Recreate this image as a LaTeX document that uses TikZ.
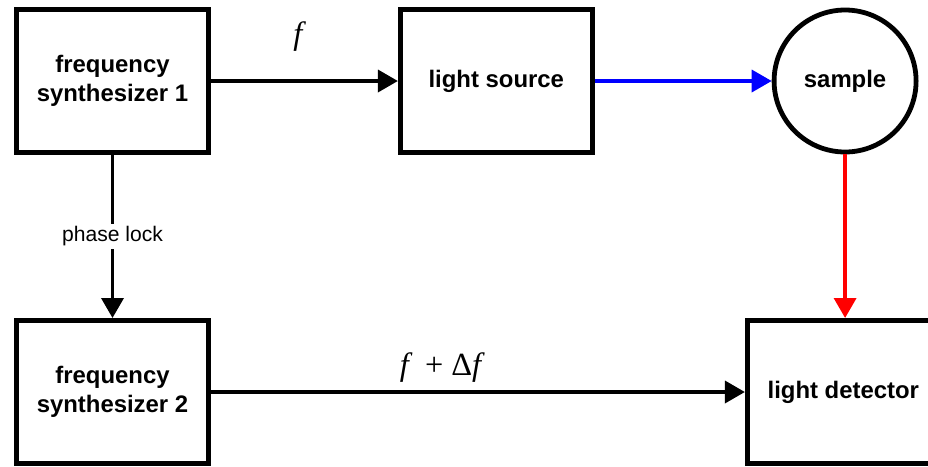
\documentclass[tikz,border=0pt]{standalone}
\usepackage{fontspec}
\setmainfont{Liberation Sans}
\newfontfamily\tms{Liberation Serif}
\usetikzlibrary{arrows.meta,positioning}

\begin{document}
\begin{tikzpicture}[
  box/.style={draw,line width=0.12cm,minimum width=4.8cm,minimum height=3.58cm,align=center,
    font=\fontsize{17}{20.6}\selectfont\bfseries},
  disc/.style={box,circle,minimum size=3.55cm,inner sep=0pt},
  arrow/.style={line width=0.09cm,-{Triangle[length=0.5cm,width=0.55cm]}},
  lbl/.style={font=\fontsize{15}{18}\selectfont,fill=white,inner sep=2pt},
  flbl/.style={font=\tms\itshape\fontsize{23}{26}\selectfont,inner sep=0pt}
]
  \useasboundingbox (0,0) rectangle (23.2,-11.65);

  \node[box] (fs1) at (2.8125,-2.025) {frequency\\synthesizer 1};
  \node[box,right=4.675cm of fs1] (src) {light source};
  \node[disc,right=4.425cm of src] (smp) {sample};

  \node[box,below=4.075cm of fs1] (fs2) {frequency\\synthesizer 2};
  \node[box,right=13.35cm of fs2] (det) {light detector};

  \draw[arrow] (fs1) -- node[flbl,pos=0.465,yshift=1.1cm] {f} (src);
  \draw[arrow,blue] (src) -- (smp);
  \draw[arrow,red] (smp.south) -- (smp.south |- det.north);
  \draw[arrow] (fs1) -- node[lbl] {phase lock} (fs2);
  \draw[arrow] (fs2) -- node[flbl,pos=0.43,yshift=0.6cm] {f\enspace{\upshape+ Δ}f} (det);
\end{tikzpicture}
\end{document}
